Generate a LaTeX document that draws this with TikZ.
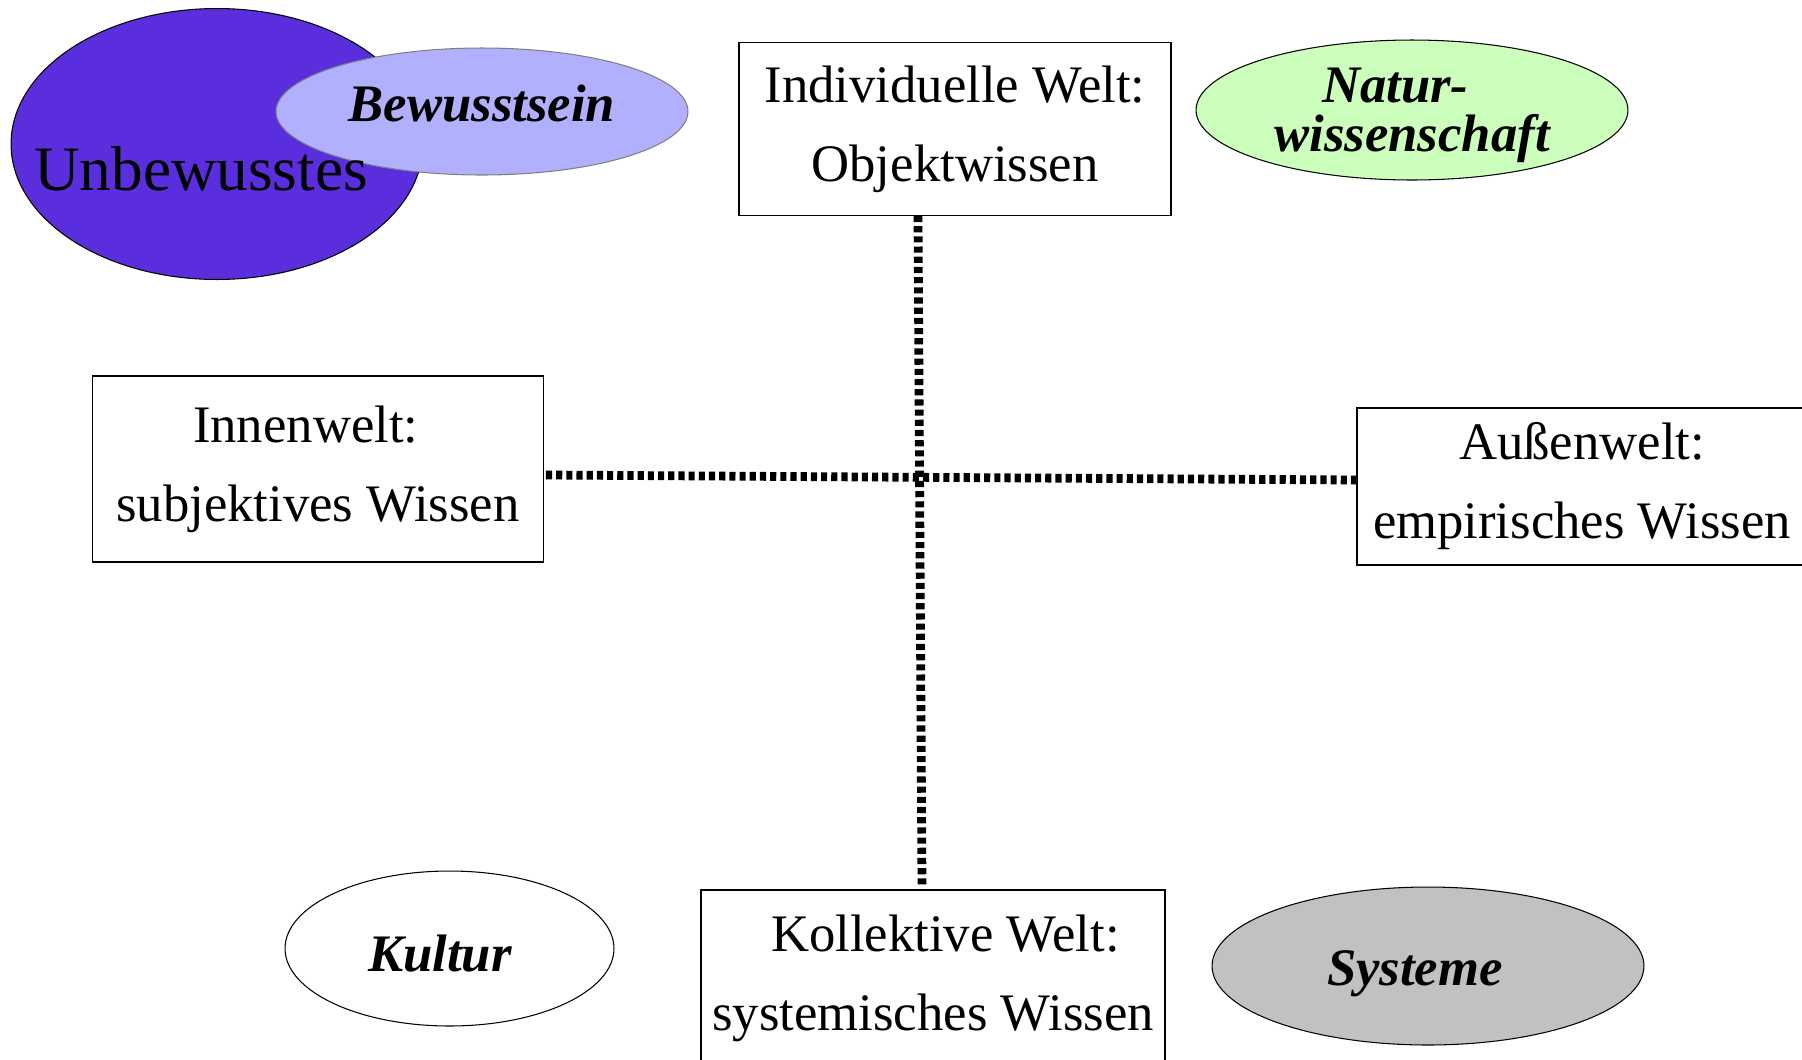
\documentclass[tikz,border=0pt]{standalone}
\usepackage{fontspec}
\setmainfont{Liberation Serif}
\usetikzlibrary{shapes.geometric,calc}
\definecolor{unbewusst}{RGB}{90,46,220}
\definecolor{bewusst}{RGB}{176,176,255}
\definecolor{natur}{RGB}{204,255,187}
\definecolor{system}{RGB}{192,194,192}

\begin{document}
\begin{tikzpicture}
            [x=0.02cm,y=-0.02cm,every node/.style={inner sep=0pt},
             welt/.style={rectangle,draw,line width=0.8pt,align=center,font=\fontsize{30}{45}\selectfont},
             feld/.style={ellipse,draw,line width=0.6pt},
             kursiv/.style={align=center,font=\fontsize{30}{28}\selectfont\bfseries\itshape},
             achse/.style={line width=5pt,dash pattern=on 3.5pt off 2.3pt}]
            \clip (0,0) rectangle (1802,1059);

            \node[feld,fill=unbewusst,minimum width=8.24cm,minimum height=5.42cm] (unbew) at (217,144) {};
            \node[feld,kursiv,draw=gray,fill=bewusst,minimum width=8.24cm,minimum height=2.54cm,text depth=9pt] (bewusst) at (482,111.5) {Bewusstsein};
            \node[font=\fontsize{36}{36}\selectfont] (unbewtext) at (201,169) {Unbewusstes};
            \node[feld,kursiv,fill=natur,minimum width=8.64cm,minimum height=2.8cm,inner sep=-8pt] (natur) at (1412,110) {\rule{0pt}{26pt}Natur-\hspace*{19pt}\\wissenschaft};
            \node[feld,kursiv,fill=white,minimum width=6.58cm,minimum height=3.1cm,text height=26pt] (kultur) at (449.5,948.5) {Kultur\hspace*{11pt}};
            \node[feld,kursiv,fill=system,minimum width=8.64cm,minimum height=3.16cm,text height=29pt] (systeme) at (1428,966) {Systeme\hspace*{15pt}};

            \node[welt,minimum width=8.64cm,minimum height=3.45cm] (indiv) at (955,129) {Individuelle Welt:\\Objektwissen};
            \node[welt,minimum width=9.01cm,minimum height=3.72cm] (innen) at (318,469) {Innenwelt:\hspace*{14pt}\\subjektives Wissen};
            \node[welt,minimum width=9.0cm,minimum height=3.14cm] (aussen) at (1582,486.5) {Außenwelt:\\empirisches Wissen};
            \node[welt,minimum width=9.28cm,minimum height=3.52cm] (koll) at (933,978) {\hspace*{14pt}Kollektive Welt:\\systemisches Wissen};

            \draw[achse] ($(indiv.south)+(-37,0)$) -- ($(koll.north)+(-11,-2)$);
            \draw[achse] ($(innen.east)+(2,6)$) -- ($(aussen.west)+(0,-6.5)$);
        \end{tikzpicture}
\end{document}
